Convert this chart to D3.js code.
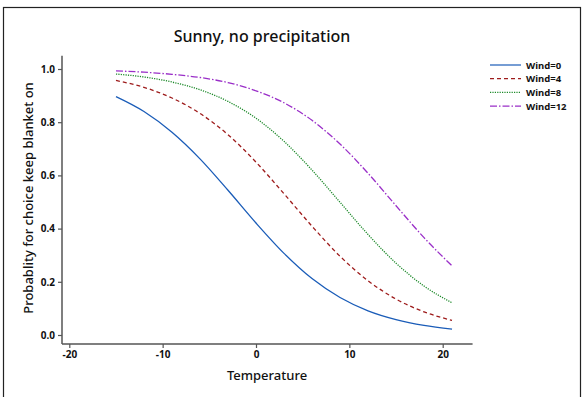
<!DOCTYPE html>
<html>
<head>
<meta charset="utf-8">
<script src="https://cdn.jsdelivr.net/npm/d3@7"></script>
<style>
  body { margin: 0; background: #fff; }
  text { font-family: "Noto Sans", "Open Sans", sans-serif; fill: #111; }
</style>
</head>
<body>
<script>
let temps = [-15, -12, -9, -6, -3, 0, 3, 6, 9, 12, 15, 18, 21];
let wind0 = [0.896, 0.840, 0.762, 0.662, 0.544, 0.421, 0.307, 0.212, 0.141, 0.091, 0.058, 0.036, 0.022];
let wind4 = [0.957, 0.931, 0.891, 0.833, 0.753, 0.650, 0.531, 0.409, 0.296, 0.204, 0.135, 0.087, 0.055];
let wind8 = [0.981, 0.970, 0.951, 0.922, 0.878, 0.815, 0.728, 0.620, 0.499, 0.378, 0.270, 0.184, 0.121];
let wind12 = [0.993, 0.988, 0.980, 0.968, 0.949, 0.918, 0.873, 0.807, 0.718, 0.608, 0.486, 0.366, 0.260];
let seriesNames = ["Wind=0", "Wind=4", "Wind=8", "Wind=12"];
let xTicks = [-20, -10, 0, 10, 20];
let yTicks = [0, 0.2, 0.4, 0.6, 0.8, 1.0];

let colors = ["#1a5cb8", "#9e1c1c", "#1d8a2a", "#9a2fc8"];
let dashes = [null, "4,3", "1.2,1.2", "7,2,1.5,2"];
let allSeries = [wind0, wind4, wind8, wind12];

let svg = d3.select("body").append("svg").attr("width", 584).attr("height", 397);

// outer frame
svg.append("rect").attr("x", 3.5).attr("y", 7.5).attr("width", 577).attr("height", 400)
    .attr("fill", "none").attr("stroke", "#222").attr("stroke-width", 1.2);

let x = d3.scaleLinear().domain([-20, 20]).range([69.3, 442.7]);
let y = d3.scaleLinear().domain([0, 1]).range([335, 69]);

// axis lines
svg.append("line").attr("x1", 62).attr("x2", 62).attr("y1", y(1.05)).attr("y2", 344)
    .attr("stroke", "#555").attr("stroke-width", 1.5);
svg.append("line").attr("x1", 62).attr("x2", x(23.2)).attr("y1", 344).attr("y2", 344)
    .attr("stroke", "#555").attr("stroke-width", 1.5);

let yAxis = svg.append("g").attr("transform", "translate(62,0)")
    .call(d3.axisLeft(y).tickValues(yTicks).tickFormat(d3.format(".1f")).tickSize(4).tickPadding(3));
let xAxis = svg.append("g").attr("transform", "translate(0,344)")
    .call(d3.axisBottom(x).tickValues(xTicks).tickFormat(function(d) { return String(d); })
        .tickSize(4).tickPadding(3));
[xAxis, yAxis].forEach(function(a) {
    a.select(".domain").remove();
    a.selectAll("line").attr("stroke", "#555").attr("stroke-width", 1.2);
    a.selectAll("text").attr("font-size", 10).attr("font-weight", "bold")
        .attr("font-family", "'Noto Sans', sans-serif").attr("fill", "#111");
});

let line = d3.line().x(function(d) { return x(d[0]); }).y(function(d) { return y(d[1]); })
    .curve(d3.curveMonotoneX);

allSeries.forEach(function(vals, i) {
    svg.append("path").datum(temps.map(function(t, j) { return [t, vals[j]]; }))
        .attr("d", line).attr("fill", "none").attr("stroke", colors[i])
        .attr("stroke-width", 1.3).attr("stroke-dasharray", dashes[i]);
});

// title and axis labels
svg.append("text").attr("x", 262).attr("y", 42).attr("text-anchor", "middle")
    .attr("font-size", 16).attr("font-weight", 500).text("Sunny, no precipitation");
svg.append("text").attr("x", 267).attr("y", 380).attr("text-anchor", "middle")
    .attr("font-size", 13).attr("font-weight", 500).text("Temperature");
svg.append("text").attr("transform", "translate(33,198) rotate(-90)").attr("text-anchor", "middle")
    .attr("font-size", 13).attr("font-weight", 500).text("Probablity for choice keep blanket on");

// legend
let legend = svg.selectAll("g.leg").data(seriesNames).enter().append("g").attr("class", "leg")
    .attr("transform", function(d, i) { return "translate(490," + (65 + i * 13.7) + ")"; });
legend.append("line").attr("x1", 0).attr("x2", 31).attr("y1", 0).attr("y2", 0)
    .attr("stroke", function(d, i) { return colors[i]; }).attr("stroke-width", 1.2)
    .attr("stroke-dasharray", function(d, i) { return dashes[i]; });
legend.append("text").attr("x", 36).attr("y", 3.5).attr("font-size", 9.5).attr("font-weight", "bold")
    .text(function(d) { return d; });
</script>
</body>
</html>
